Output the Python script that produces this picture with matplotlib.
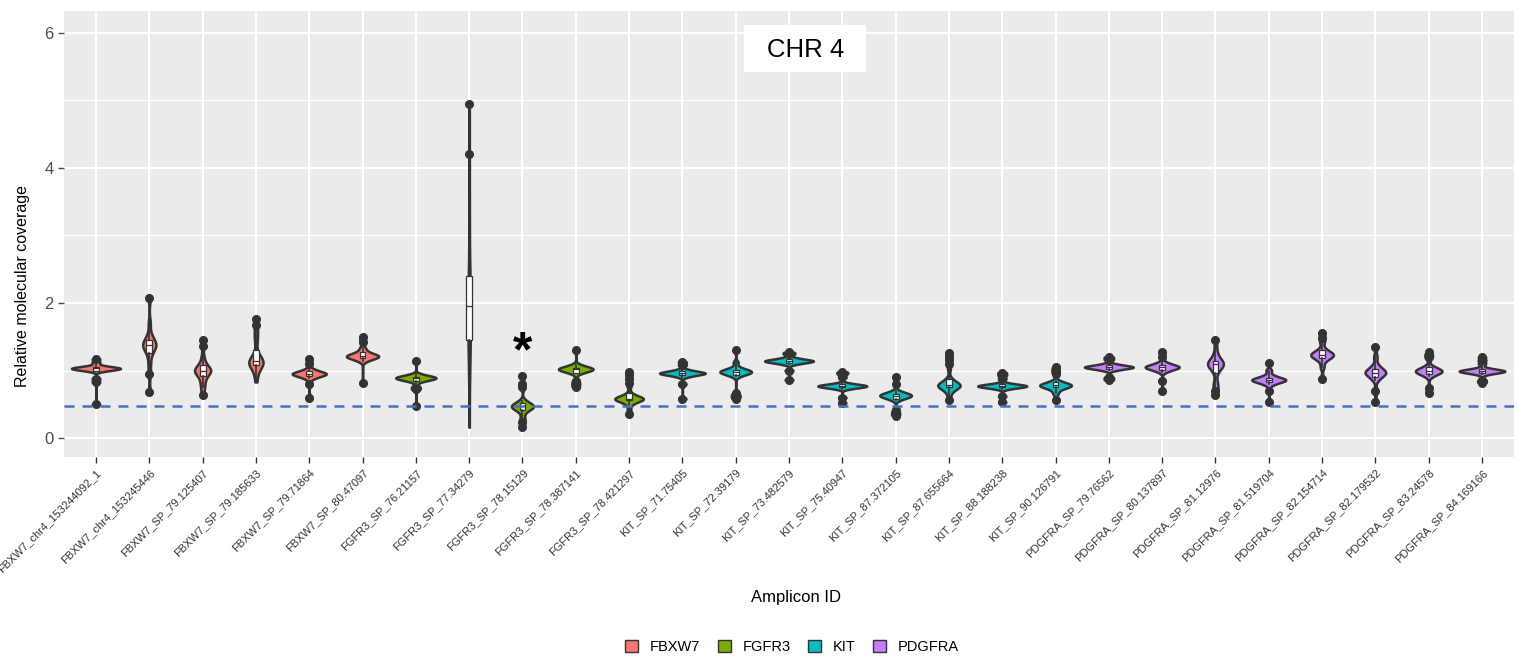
import numpy as np
import matplotlib
matplotlib.use("Agg")
import matplotlib.pyplot as plt
from matplotlib import cbook
from matplotlib.patches import Patch, Rectangle

plt.rcParams['font.family'] = ['Liberation Sans', 'DejaVu Sans']

amplicons = [
    "FBXW7_chr4_153244092_1", "FBXW7_chr4_153245446", "FBXW7_SP_79.125407",
    "FBXW7_SP_79.185633", "FBXW7_SP_79.71864", "FBXW7_SP_80.47097",
    "FGFR3_SP_76.21157", "FGFR3_SP_77.34279", "FGFR3_SP_78.15129",
    "FGFR3_SP_78.387141", "FGFR3_SP_78.421297",
    "KIT_SP_71.75405", "KIT_SP_72.39179", "KIT_SP_73.482579", "KIT_SP_75.40947",
    "KIT_SP_87.372105", "KIT_SP_87.655664", "KIT_SP_88.188238", "KIT_SP_90.126791",
    "PDGFRA_SP_79.76562", "PDGFRA_SP_80.137897", "PDGFRA_SP_81.12976",
    "PDGFRA_SP_81.519704", "PDGFRA_SP_82.154714", "PDGFRA_SP_82.179532",
    "PDGFRA_SP_83.24578", "PDGFRA_SP_84.169166",
]
genes = ["FBXW7"] * 6 + ["FGFR3"] * 5 + ["KIT"] * 8 + ["PDGFRA"] * 8
gene_order = ["FBXW7", "FGFR3", "KIT", "PDGFRA"]
gene_colors = {"FBXW7": "#F8766D", "FGFR3": "#7CAE00", "KIT": "#00BFC4", "PDGFRA": "#C77CFF"}

# relative molecular coverage per amplicon, one list per sample set
coverage = [
    [0.5, 0.83, 0.88, 0.99, 1.006, 1.016, 1.024, 1.03, 1.03, 1.036, 1.044, 1.054, 1.07, 1.12, 1.17],
    [0.68, 0.95, 1.1, 1.23, 1.29, 1.33, 1.36, 1.38, 1.38, 1.40, 1.43, 1.47, 1.53, 1.7, 2.07],
    [0.64, 0.75, 0.82, 0.89, 0.934, 0.962, 0.984, 1.0, 1.0, 1.016, 1.038, 1.066, 1.11, 1.2, 1.37, 1.45],
    [0.83, 0.92, 0.98, 1.02, 1.05, 1.07, 1.09, 1.10, 1.11, 1.12, 1.12, 1.13, 1.14, 1.15,
     1.17, 1.19, 1.22, 1.26, 1.42, 1.48, 1.55, 1.62, 1.68, 1.76],
    [0.6, 0.8, 0.883, 0.91, 0.927, 0.94, 0.95, 0.95, 0.96, 0.973, 0.99, 1.017, 1.1, 1.17],
    [0.81, 1.143, 1.17, 1.187, 1.2, 1.21, 1.21, 1.22, 1.233, 1.25, 1.277, 1.33, 1.42, 1.49],
    [0.47, 0.72, 0.76, 0.837, 0.858, 0.871, 0.882, 0.89, 0.89, 0.898, 0.909, 0.922, 0.943, 1.14],
    [0.16, 0.9, 1.2, 1.35, 1.45, 1.5, 1.7, 1.85, 1.95, 2.05, 2.2, 2.3, 2.4, 3.0, 3.5, 4.2, 4.94],
    [0.16, 0.24, 0.3, 0.39, 0.422, 0.442, 0.458, 0.47, 0.47, 0.482, 0.498, 0.518, 0.55, 0.75, 0.8, 0.92],
    [0.75, 0.8, 0.85, 0.958, 0.983, 0.998, 1.011, 1.02, 1.02, 1.029, 1.042, 1.057, 1.082, 1.3],
    [0.35, 0.42, 0.5, 0.53, 0.55, 0.56, 0.57, 0.575, 0.58, 0.58, 0.585, 0.59, 0.6, 0.61,
     0.63, 0.66, 0.76, 0.82, 0.88, 0.93, 0.98],
    [0.58, 0.8, 0.91, 0.93, 0.943, 0.953, 0.96, 0.96, 0.967, 0.977, 0.99, 1.01, 1.08, 1.13],
    [0.58, 0.62, 0.66, 0.918, 0.943, 0.958, 0.971, 0.98, 0.98, 0.989, 1.002, 1.017, 1.042, 1.12, 1.3],
    [0.86, 1.0, 1.094, 1.112, 1.124, 1.133, 1.14, 1.14, 1.147, 1.156, 1.168, 1.186, 1.24, 1.27],
    [0.52, 0.6, 0.73, 0.746, 0.756, 0.764, 0.77, 0.77, 0.776, 0.784, 0.794, 0.81, 0.9, 0.95, 0.98],
    [0.33, 0.37, 0.42, 0.568, 0.593, 0.608, 0.621, 0.63, 0.63, 0.639, 0.652, 0.667, 0.692, 0.8, 0.9],
    [0.56, 0.64, 0.70, 0.72, 0.74, 0.755, 0.765, 0.775, 0.78, 0.78, 0.785, 0.795, 0.81,
     0.83, 0.85, 0.88, 1.02, 1.1, 1.16, 1.21, 1.26],
    [0.53, 0.62, 0.73, 0.746, 0.756, 0.764, 0.77, 0.77, 0.776, 0.784, 0.794, 0.81, 0.88, 0.93, 0.97],
    [0.56, 0.66, 0.718, 0.743, 0.758, 0.771, 0.78, 0.78, 0.789, 0.802, 0.817, 0.842, 0.95, 1.0, 1.05],
    [0.86, 0.9, 1.004, 1.022, 1.034, 1.043, 1.05, 1.05, 1.057, 1.066, 1.078, 1.096, 1.16, 1.2],
    [0.7, 0.85, 0.983, 1.01, 1.027, 1.04, 1.05, 1.05, 1.06, 1.073, 1.09, 1.117, 1.2, 1.27],
    [0.64, 0.69, 0.74, 0.79, 0.84, 0.97, 1.01, 1.04, 1.06, 1.08, 1.09, 1.1, 1.1, 1.11,
     1.12, 1.14, 1.17, 1.2, 1.25, 1.35, 1.45],
    [0.54, 0.7, 0.793, 0.82, 0.837, 0.85, 0.86, 0.86, 0.87, 0.883, 0.9, 0.927, 1.0, 1.11],
    [0.88, 1.05, 1.143, 1.178, 1.2, 1.217, 1.23, 1.23, 1.243, 1.26, 1.282, 1.317, 1.42, 1.48, 1.55],
    [0.53, 0.7, 0.86, 0.904, 0.932, 0.954, 0.97, 0.97, 0.986, 1.008, 1.036, 1.08, 1.2, 1.35],
    [0.67, 0.74, 0.916, 0.946, 0.964, 0.979, 0.99, 0.99, 1.001, 1.016, 1.034, 1.064, 1.18, 1.22, 1.27],
    [0.82, 0.86, 0.947, 0.964, 0.975, 0.984, 0.99, 0.99, 0.996, 1.005, 1.016, 1.033, 1.1, 1.15, 1.2],
]
cutoff = 0.47
star_amplicon = "FGFR3_SP_78.15129"
panel_title = "CHR 4"


def kde_nrd0(x, coords):
    # gaussian kernel with R's nrd0 bandwidth, like ggplot's geom_violin
    x = np.asarray(x, dtype=float)
    sd = np.std(x, ddof=1)
    iqr = np.subtract(*np.percentile(x, [75, 25]))
    lo = min(sd, iqr / 1.34) if iqr > 0 else sd
    bw = 0.9 * lo * len(x) ** -0.2
    z = (coords[:, None] - x[None, :]) / bw
    return np.exp(-0.5 * z ** 2).sum(axis=1) / (len(x) * bw * np.sqrt(2 * np.pi))


fig = plt.figure(figsize=(15.18, 6.64), dpi=100)
ax = fig.add_axes([64 / 1518, 1 - 457 / 664, 1450 / 1518, 446 / 664])
ax.set_facecolor("#EBEBEB")
for s in ax.spines.values():
    s.set_visible(False)

pos = np.arange(1, len(amplicons) + 1)

ax.set_yticks([0, 2, 4, 6])
ax.set_yticks([1, 3, 5], minor=True)
ax.grid(True, which="major", color="white", linewidth=1.5)
ax.grid(True, which="minor", axis="y", color="white", linewidth=0.8)
ax.set_axisbelow(True)

# violins scaled by area (same max density -> same width), as in ggplot
stats = cbook.violin_stats(coverage, kde_nrd0, points=256)
peaks = np.array([st["vals"].max() for st in stats])
widths = 0.92 * peaks / peaks.max()
vp = ax.violin(stats, positions=pos, widths=widths, showmeans=False,
               showextrema=False, showmedians=False)
for body, g in zip(vp["bodies"], genes):
    body.set_facecolor(gene_colors[g])
    body.set_edgecolor("#333333")
    body.set_linewidth(1.8)
    body.set_alpha(1)
    body.set_zorder(2)

ax.boxplot(coverage, positions=pos, widths=0.11, patch_artist=True, manage_ticks=False,
           boxprops=dict(facecolor="white", edgecolor="#333333", linewidth=0.9),
           medianprops=dict(color="#333333", linewidth=0.9),
           whiskerprops=dict(color="#333333", linewidth=1.2),
           capprops=dict(linewidth=0),
           flierprops=dict(marker="o", markerfacecolor="#333333",
                           markeredgecolor="#333333", markersize=5.5),
           zorder=3)

ax.axhline(cutoff, color="#4472C4", linewidth=1.8, linestyle=(0, (4, 3.2)), zorder=4)

ax.text(amplicons.index(star_amplicon) + 1, 1.06, "*", fontsize=36, fontweight="bold",
        ha="center", va="baseline", color="black", zorder=5)

ax.add_patch(Rectangle((13.16, 5.41), 2.29, 0.71, facecolor="white", edgecolor="none", zorder=5))
ax.text(14.31, 5.74, panel_title, fontsize=18.5, ha="center", va="center", zorder=6)

ax.set_xlim(0.4, len(amplicons) + 0.6)
ax.set_ylim(-0.28, 6.32)
ax.set_xticks(pos)
ax.set_xticklabels(amplicons, rotation=45, ha="right", va="top",
                   rotation_mode="anchor", fontsize=8, color="#5A5A5A")
ax.tick_params(axis="y", labelsize=12, colors="#4D4D4D", length=4, width=1)
ax.tick_params(axis="x", colors="#333333", length=4, width=1)
ax.tick_params(axis="y", which="minor", length=0)
ax.set_ylabel("Relative molecular coverage", fontsize=11.5)
ax.yaxis.set_label_coords(-0.0234, 0.383)
ax.set_xlabel("Amplicon ID", fontsize=12)
ax.xaxis.set_label_coords(0.505, -0.299)

handles = [Patch(facecolor=gene_colors[g], edgecolor="#333333", linewidth=1) for g in gene_order]
fig.legend(handles, gene_order, loc="center", bbox_to_anchor=(792 / 1518, 1 - 647 / 664),
           ncol=4, frameon=False, fontsize=10.5, handlelength=0.9, handleheight=0.9,
           handletextpad=0.8, columnspacing=1.2)

fig.savefig("out.png", dpi=100)
